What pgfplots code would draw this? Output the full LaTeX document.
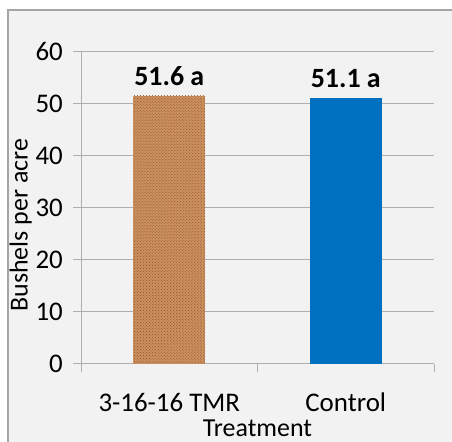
\documentclass[border=0pt]{standalone}
\usepackage{pgfplots}
\pgfplotsset{compat=1.18}
\usepackage{fontspec}
\setmainfont{Carlito}
\usetikzlibrary{patterns}
\definecolor{framec}{RGB}{165,165,165}
\definecolor{panel}{RGB}{242,242,242}
\definecolor{gridc}{RGB}{175,175,175}
\definecolor{tanfill}{RGB}{205,145,95}
\definecolor{speck}{RGB}{135,75,35}
\definecolor{lightspeck}{RGB}{235,190,145}
\definecolor{ctrl}{RGB}{0,112,192}

\begin{document}
\begin{tikzpicture}[x=1bp,y=1bp]
\path[use as bounding box] (0,0) rectangle (452,442);
\fill[white] (0,0) rectangle (452,442);
\draw[framec, fill=panel, line width=1.5bp] (8,-10) rectangle (470,432);
\begin{axis}[
    at={(81bp,78bp)}, anchor=south west,
    scale only axis,
    width=353bp, height=312bp,
    xmin=0.5, xmax=2.5, ymin=0, ymax=60,
    axis x line*=bottom, axis y line*=left,
    axis line style={gridc, line width=1bp},
    ytick={0,10,...,60},
    ymajorgrids, grid style={gridc, line width=1bp},
    ytick style={draw=gridc, line width=1bp},
    major tick length=8bp, tick align=outside,
    xtick={1,2}, xticklabels={3-16-16 TMR, Control},
    xtick style={draw=none},
    extra x ticks={0.5,1.5,2.5}, extra x tick labels={},
    extra x tick style={xtick style={draw=gridc, line width=1bp}, grid=none},
    tick label style={font=\fontsize{27}{32}\selectfont},
    /pgf/number format/assume math mode=true,
    yticklabel style={anchor=east, inner sep=0pt, xshift=-10bp},
    xticklabel style={anchor=north, inner sep=0pt, yshift=-21bp},
    ylabel={Bushels per acre},
    ylabel style={font=\fontsize{26}{30}\selectfont, inner sep=0pt,
        at={(axis description cs:-0.203,0.445)}, anchor=north},
    xlabel={Treatment},
    xlabel style={font=\fontsize{26}{30}\selectfont, inner sep=0pt,
        at={(axis description cs:0.5,-0.2308)}, anchor=base},
    nodes near coords,
    point meta=explicit symbolic,
    nodes near coords style={font=\bfseries\fontsize{28}{32}\selectfont,
        anchor=south, inner sep=0pt, yshift=10bp},
]
% granite-like fill: tan base, light and dark speckles on top
\addplot[ybar, bar width=72bp, fill=tanfill, draw=none,
    postaction={pattern=dots, pattern color=lightspeck},
    postaction={pattern=crosshatch dots, pattern color=speck}]
    coordinates {(1,51.6) [51.6 a]};
\addplot[ybar, bar width=72bp, fill=ctrl, draw=none]
    coordinates {(2,51.1) [51.1 a]};
\end{axis}
\end{tikzpicture}
\end{document}
